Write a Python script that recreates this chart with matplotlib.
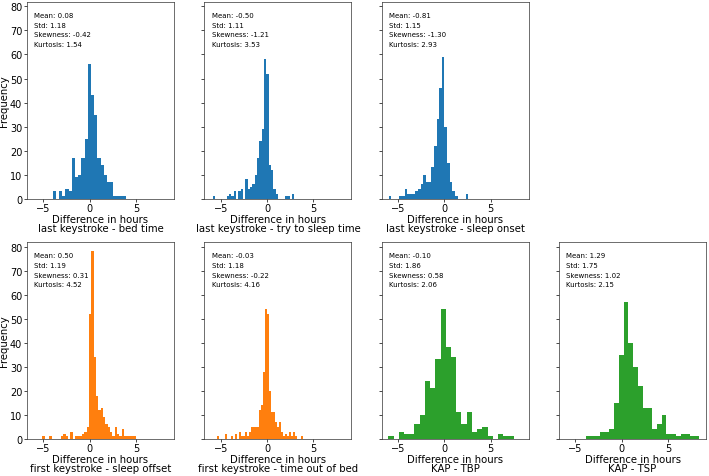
import numpy as np
import matplotlib
matplotlib.use("Agg")
import matplotlib.pyplot as plt

plt.rcParams["axes.linewidth"] = 0.5
plt.rcParams["axes.edgecolor"] = "#333333"
plt.rcParams["xtick.major.width"] = 0.5
plt.rcParams["ytick.major.width"] = 0.5
plt.rcParams["xtick.major.size"] = 2.2
plt.rcParams["ytick.major.size"] = 2.2
plt.rcParams["xtick.labelsize"] = 7
plt.rcParams["ytick.labelsize"] = 7

# histogram counts, with the data range of each panel
counts_bed = [3, 0, 3, 1, 4, 3, 17, 9, 10, 17, 25, 56, 43, 35, 17, 14, 10, 7, 7, 1, 1, 1, 1]
range_bed = (-3.99, 3.95)

counts_try = [1, 0, 0, 0, 0, 0, 1, 2, 1, 3, 0, 3, 4, 0, 8, 4, 5, 6, 10, 17, 24, 29,
              58, 52, 14, 12, 4, 2, 0, 0, 0, 1, 1, 0, 2]
range_try = (-5.88, 2.96)

counts_onset = [1, 0, 0, 0, 1, 1, 4, 2, 2, 2, 3, 4, 6, 10, 7, 7, 13, 22, 33, 46,
                59, 30, 15, 7, 3, 1, 0, 0, 0, 2]
range_onset = (-6.0, 2.59)

counts_offset = [1, 0, 0, 1, 0, 0, 0, 0, 1, 2, 1, 0, 3, 0, 1, 1, 1, 2, 3, 5,
                 52, 78, 34, 18, 12, 13, 9, 6, 5, 3, 1, 5, 2, 1, 4, 1, 1, 1, 1, 1]
range_offset = (-5.11, 4.96)

counts_outbed = [1, 0, 0, 0, 2, 0, 0, 1, 0, 2, 0, 3, 1, 1, 3, 1, 3, 5, 5, 5, 5, 12,
                 14, 28, 54, 52, 20, 11, 11, 7, 5, 7, 3, 1, 2, 1, 3, 1, 3, 1, 0, 0, 1]
range_outbed = (-5.42, 3.90)

counts_tbp = [1, 0, 3, 2, 2, 6, 10, 24, 21, 33, 54, 38, 34, 11, 6, 11, 3, 4, 5, 1, 0, 2, 1, 1]
range_tbp = (-6.05, 7.48)

counts_tsp = [1, 1, 1, 3, 3, 4, 15, 35, 57, 40, 30, 22, 13, 13, 4, 6, 10, 2, 2, 1, 2, 2, 1, 1]
range_tsp = (-3.89, 8.40)

names = ["last keystroke - bed time", "last keystroke - try to sleep time",
         "last keystroke - sleep onset", "first keystroke - sleep offset",
         "first keystroke - time out of bed", "KAP - TBP", "KAP - TSP"]
means = [0.08, -0.50, -0.81, 0.50, -0.03, -0.10, 1.29]
stds = [1.18, 1.11, 1.15, 1.19, 1.18, 1.86, 1.75]
skews = [-0.42, -1.21, -1.30, 0.31, -0.22, 0.58, 1.02]
kurts = [1.54, 3.53, 2.93, 4.52, 4.16, 2.06, 2.15]

all_counts = [counts_bed, counts_try, counts_onset, counts_offset, counts_outbed, counts_tbp, counts_tsp]
all_ranges = [range_bed, range_try, range_onset, range_offset, range_outbed, range_tbp, range_tsp]
colors = ["#1f77b4"] * 3 + ["#ff7f0e"] * 2 + ["#2ca02c"] * 2
slots = [(0, 0), (0, 1), (0, 2), (1, 0), (1, 1), (1, 2), (1, 3)]

fig, axes = plt.subplots(2, 4, sharex=True, sharey=True, figsize=(7.09, 4.77), dpi=100)
fig.subplots_adjust(left=0.038, right=0.996, top=0.994, bottom=0.078, wspace=0.205, hspace=0.22)

for i, (r, c) in enumerate(slots):
    ax = axes[r, c]
    cnt = np.array(all_counts[i], dtype=float)
    edges = np.linspace(all_ranges[i][0], all_ranges[i][1], len(cnt) + 1)
    centers = (edges[:-1] + edges[1:]) / 2
    ax.hist(centers, bins=edges, weights=cnt, color=colors[i])
    stats = [f"Mean: {means[i]:.2f}", f"Std: {stds[i]:.2f}",
             f"Skewness: {skews[i]:.2f}", f"Kurtosis: {kurts[i]:.2f}"]
    for j, s in enumerate(stats):
        ax.text(0.05, 0.95 - 0.05 * j, s, transform=ax.transAxes, fontsize=5, va="top")
    ax.set_xlabel("Difference in hours\n" + names[i], fontsize=7.3, labelpad=0.3,
                  linespacing=0.92)
    ax.xaxis.set_tick_params(labelbottom=True, pad=1.0)
    ax.yaxis.set_tick_params(pad=1.2)
    if c == 0:
        ax.set_ylabel("Frequency", fontsize=7.3, labelpad=0.5)

axes[0, 3].axis("off")

fig.savefig("out.png", dpi=100)
